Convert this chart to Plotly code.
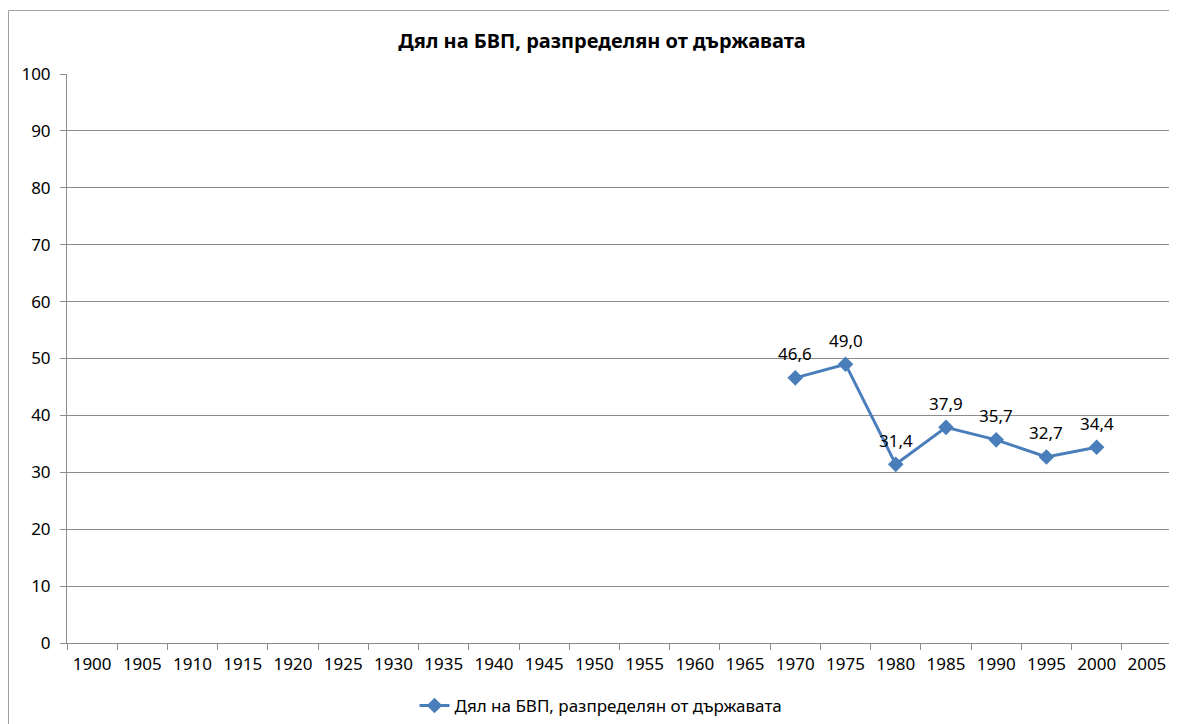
import plotly.graph_objects as go

categories = [str(y) for y in range(1900, 2010, 5)]
years = ["1970", "1975", "1980", "1985", "1990", "1995", "2000"]
values = [46.6, 49.0, 31.4, 37.9, 35.7, 32.7, 34.4]
labels = ["46,6", "49,0", "31,4", "37,9", "35,7", "32,7", "34,4"]
series_name = "Дял на БВП, разпределян от държавата"
title_text = "Дял на БВП, разпределян от държавата"

# page body has an 8px margin, so figure coords = screen coords - 8
OFF = 8
W, H = 1177 - OFF, 724 - OFF
L, R, T, B = 67 - OFF, 1172 - OFF, 74 - OFF, 643 - OFF
FONT = "Noto Sans"
BLUE = "#4A7EBB"
GRID = "#8C8C8C"
FS = 17

fig = go.Figure()
fig.add_trace(go.Scatter(
    x=categories, y=[None] * len(categories), mode="lines",
    showlegend=False, hoverinfo="skip"))
fig.add_trace(go.Scatter(
    x=years, y=values, mode="lines+markers", name=series_name,
    line=dict(color=BLUE, width=3),
    marker=dict(symbol="diamond", size=12, color=BLUE)))

# category axes take the category index for annotation positions
annotations = [dict(x=categories.index(xv), y=yv, text=t, showarrow=False,
                    xref="x", yref="y", yshift=24,
                    font=dict(family=FONT, size=FS, color="#000000"))
               for xv, yv, t in zip(years, values, labels)]

fig.update_layout(
    width=W, height=H,
    margin=dict(l=L, r=W - R, t=T, b=H - B, pad=0, autoexpand=False),
    paper_bgcolor="white", plot_bgcolor="white",
    font=dict(family=FONT, size=FS, color="#000000"),
    title=dict(text="<b>" + title_text + "</b>", x=(602 - OFF) / W, xanchor="center",
               y=1 - (41 - OFF) / H, yanchor="middle",
               font=dict(family=FONT, size=20, color="#000000")),
    showlegend=True,
    legend=dict(orientation="h", x=(601 - OFF - L) / (R - L), xanchor="center",
                y=-((706 - OFF) - B) / (B - T), yanchor="middle",
                font=dict(family=FONT, size=FS), itemwidth=30),
    annotations=annotations,
    xaxis=dict(type="category", categoryorder="array", categoryarray=categories,
               range=[-0.5, len(categories) - 0.5], tickson="boundaries",
               ticks="outside", ticklen=6, tickcolor=GRID,
               showline=True, linecolor=GRID, linewidth=1,
               showgrid=False, zeroline=False, ticklabelstandoff=6,
               tickfont=dict(family=FONT, size=FS)),
    yaxis=dict(range=[0, 100], dtick=10, ticks="outside", ticklen=6,
               tickcolor=GRID, showline=True, linecolor=GRID,
               showgrid=True, gridcolor=GRID, gridwidth=1,
               zeroline=False, ticklabelstandoff=6,
               tickfont=dict(family=FONT, size=FS)),
    shapes=[dict(type="rect", xref="paper", yref="paper",
                 x0=(0.5 - L) / (R - L), x1=(W + 5 - L) / (R - L),
                 y0=-(H + 5 - B) / (B - T), y1=1 + (T - 2.5) / (B - T),
                 line=dict(color="#A0A0A0", width=1), layer="below")],
)

fig.write_html("out.html")
